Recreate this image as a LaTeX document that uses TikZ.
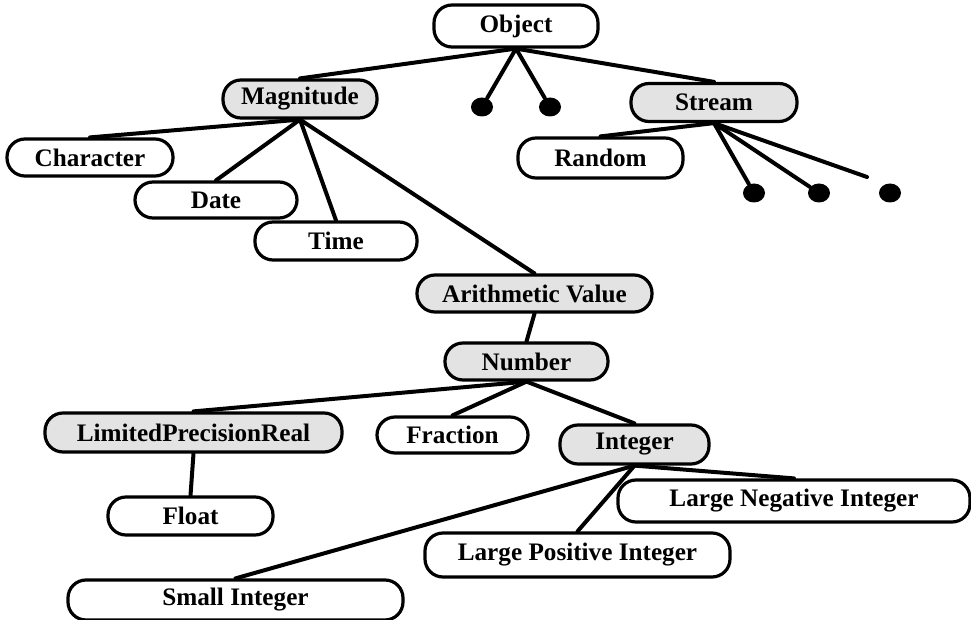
\documentclass[tikz,border=0pt]{standalone}
\usepackage{fontspec}
\setmainfont{Liberation Serif}
\usepackage{tikz}
\usetikzlibrary{positioning,shapes.geometric}

\begin{document}
\begin{tikzpicture}[x=0.5pt,y=-0.5pt,font=\fontsize{12.6}{14}\selectfont\bfseries]
\tikzset{
  cls/.style={draw,line width=1.6pt,rounded corners=9pt,inner sep=0pt,minimum height=19pt,fill=white},
  abs/.style={cls,fill=gray!22},
  blob/.style={ellipse,fill=black,inner sep=0pt,minimum width=11pt,minimum height=9.5pt},
  link/.style={line width=2pt,line cap=round}
}
\useasboundingbox (0,0) rectangle (971,620);
% top of the hierarchy
\node(obj)[cls,minimum width=82pt,minimum height=21pt] at (516,26){Object};
\node(mag)[abs,minimum width=77pt] at (300,99){Magnitude};
\node(d1)[blob] at (482,107){};
\node(d2)[blob] at (550,107){};
\node(str)[abs,minimum width=83pt] at (714,102.5){Stream};
\node(rnd)[cls,minimum width=82.5pt,minimum height=20pt] at (600.5,158){Random};
\node(d3)[blob] at (754,193){};
\node(d4)[blob] at (819,193){};
\node(d5)[blob] at (890,193){};
\coordinate(gap) at (867,177);
% magnitudes
\node(chr)[cls,minimum width=83pt,minimum height=18.5pt] at (90,157.5){Character};
\node(dat)[cls,minimum width=81pt,minimum height=18pt] at (216,200){Date};
\node(tim)[cls,minimum width=81pt] at (336,241){Time};
\node(ari)[abs,minimum width=117.5pt,minimum height=18.5pt] at (534.5,293.5){Arithmetic Value};
\node(num)[abs,minimum width=81.5pt,minimum height=18.5pt] at (526.5,361.5){Number};
% numbers
\node(lpr)[abs,minimum width=148.5pt,minimum height=19.5pt] at (193.5,432.5){LimitedPrecisionReal};
\node(frc)[cls,minimum width=75.5pt,minimum height=18pt] at (452.5,435){Fraction};
\node(int)[abs,minimum width=74.5pt,minimum height=19.5pt] at (634.5,444.5){Integer};
\node(flt)[cls,minimum width=82.5pt] at (190.5,516){Float};
\node(lni)[cls,minimum width=176pt,minimum height=21pt] at (794,501){Large Negative Integer};
\node(lpi)[cls,minimum width=152.5pt,minimum height=22pt] at (577.5,555){Large Positive Integer};
\node(smi)[cls,minimum width=167.5pt,minimum height=20pt] at (235.5,600){Small Integer};
\draw[link](obj.south)--(mag.north); \draw[link](obj.south)--(d1); \draw[link](obj.south)--(d2); \draw[link](obj.south)--(str.north);
\draw[link](str.south)--(rnd.north); \draw[link](str.south)--(d3); \draw[link](str.south)--(d4); \draw[link](str.south)--(gap);
\draw[link](mag.south)--(chr.north); \draw[link](mag.south)--(dat.north); \draw[link](mag.south)--(tim.north); \draw[link](mag.south)--(ari.north);
\draw[link](ari.south)--(num.north);
\draw[link](num.south)--(lpr.north); \draw[link](num.south)--(frc.north); \draw[link](num.south)--(int.north);
\draw[link](lpr.south)--(flt.north);
\draw[link](int.south)--(smi.north); \draw[link](int.south)--(lpi.north); \draw[link](int.south)--(lni.north);
\end{tikzpicture}
\end{document}
